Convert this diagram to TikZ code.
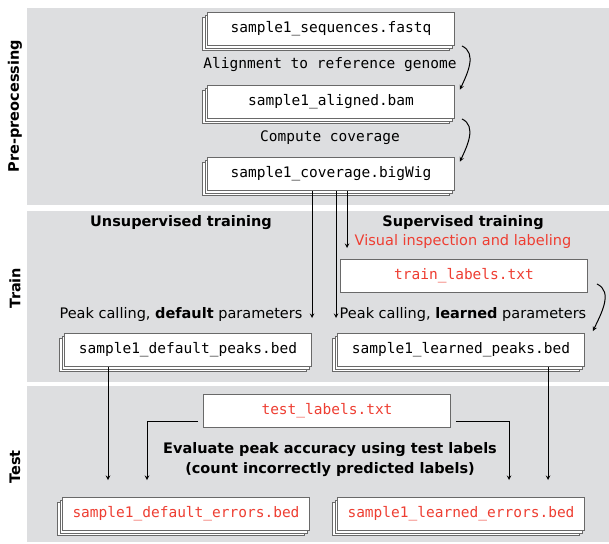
\documentclass[tikz,border=0pt]{standalone}
\usepackage{fontspec}
\setmainfont{DejaVu Sans}
\setmonofont{DejaVu Sans Mono}
\usetikzlibrary{shadows}

\definecolor{panelgray}{RGB}{221,222,224}
\definecolor{labelred}{RGB}{238,62,50}
\definecolor{boxline}{RGB}{105,105,105}

\begin{document}
\begin{tikzpicture}[x=1pt,y=1pt]
  \tikzset{
    panel/.style={fill=panelgray},
    filebox/.style={
      rectangle,
      draw=boxline,
      fill=white,
      line width=0.9pt,
      minimum width=247pt,
      minimum height=33pt,
      inner sep=0pt,
      font=\ttfamily\fontsize{14.5}{17}\selectfont
    },
    stacked/.style={filebox, double copy shadow={shadow xshift=-2.5pt, shadow yshift=-2.5pt}},
    steplabel/.style={font=\ttfamily\fontsize{14.5}{17}\selectfont},
    plain/.style={font=\fontsize{14.5}{17}\selectfont},
    heading/.style={font=\bfseries\fontsize{14.5}{20}\selectfont, align=center},
    sidelabel/.style={font=\bfseries\fontsize{14.5}{17}\selectfont, rotate=90},
    flow/.style={->, >=stealth, line width=1pt}
  }

  \useasboundingbox (0,0) rectangle (609,-543);

  % the three stages
  \fill[panel] (27,-8) rectangle (609,-205);
  \fill[panel] (27,-211) rectangle (609,-382);
  \fill[panel] (27,-386) rectangle (609,-542);

  \node[sidelabel] (pre) at (15,-106) {Pre-preocessing};
  \node[sidelabel] (train) at (15,-288) {Train};
  \node[sidelabel] (test) at (15,-467) {Test};

  % pre-processing
  \node[stacked] (fastq) at (331,-29) {sample1\_sequences.fastq};
  \node[steplabel] (align) at (330,-65) {Alignment to reference genome};
  \node[stacked] (bam) at (331,-102) {sample1\_aligned.bam};
  \node[steplabel] (cover) at (330,-138) {Compute coverage};
  \node[stacked] (bigwig) at (331,-174) {sample1\_coverage.bigWig};

  \draw[flow] ([xshift=7pt]fastq.south east) to[out=-25, in=65] ([xshift=5pt, yshift=-4.5pt]bam.north east);
  \draw[flow] ([xshift=7pt]bam.south east) to[out=-25, in=65] ([xshift=5pt, yshift=-4.5pt]bigwig.north east);

  % train
  \node[heading] (unsup) at (181,-223) {Unsupervised training};
  \node[heading] (sup) at (463,-223) {Supervised training};
  \node[plain, text=labelred] (visual) at (463,-241) {Visual inspection and labeling};
  \node[filebox, text=labelred] (trainlab) at (464,-276) {train\_labels.txt};
  \node[plain] (dcall) at (181,-314) {Peak calling, \textbf{default} parameters};
  \node[plain] (lcall) at (463,-314) {Peak calling, \textbf{learned} parameters};
  \node[stacked] (dpeaks) at (188,-350) {sample1\_default\_peaks.bed};
  \node[stacked] (lpeaks) at (461,-350) {sample1\_learned\_peaks.bed};

  \coordinate (dtop) at (312,-318);
  \coordinate (ltop) at (336,-318);
  \coordinate (vtop) at (347,-248);
  \draw[flow] (dtop |- bigwig.south) -- (dtop);
  \draw[flow] (ltop |- bigwig.south) -- (ltop);
  \draw[flow] (vtop |- bigwig.south) -- (vtop);

  \draw[flow] ([xshift=9pt, yshift=9pt]trainlab.south east) to[out=-25, in=65] ([xshift=8pt, yshift=2pt]lpeaks.north east);

  % test
  \node[filebox, text=labelred] (testlab) at (327,-411) {test\_labels.txt};
  \node[heading] (evaluate) at (330,-460) {Evaluate peak accuracy using test labels\\(count incorrectly predicted labels)};
  \node[stacked, text=labelred] (derr) at (186,-514) {sample1\_default\_errors.bed};
  \node[stacked, text=labelred] (lerr) at (461,-514) {sample1\_learned\_errors.bed};

  \coordinate (dend) at (108,-480);
  \coordinate (tleft) at (147,-480);
  \coordinate (tright) at (509,-480);
  \coordinate (lend) at (548,-480);
  \draw[flow] (dend |- dpeaks.south) -- (dend);
  \draw[flow] (lend |- lpeaks.south) -- (lend);
  \draw[flow] ([xshift=-5pt, yshift=-10pt]testlab.west) -| (tleft);
  \draw[flow] ([xshift=5pt, yshift=-10pt]testlab.east) -| (tright);
\end{tikzpicture}
\end{document}
